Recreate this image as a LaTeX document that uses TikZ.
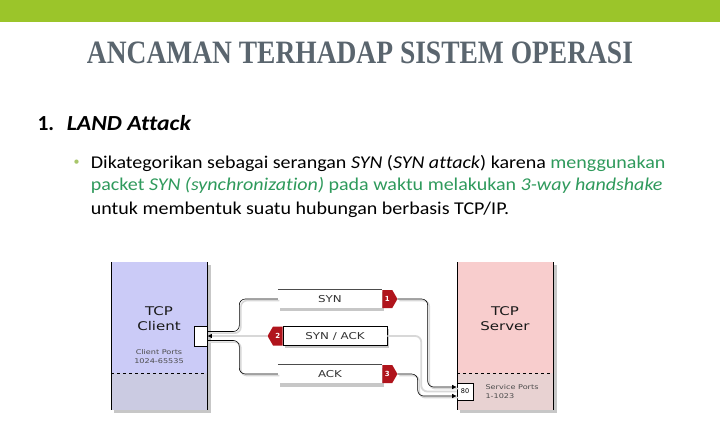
\documentclass[tikz,border=0pt]{standalone}
\usepackage{fontspec}
\setmainfont{Carlito}[Ligatures=NoCommon]
\newfontfamily\titlefont{Liberation Serif}
\newfontfamily\diagfont{DejaVu Sans}
\usetikzlibrary{shapes.symbols,arrows.meta,calc}
\definecolor{barGreen}{HTML}{9BC52A}
\definecolor{titleGray}{HTML}{5A656E}
\definecolor{txtGreen}{HTML}{2F9A5C}
\definecolor{bulletGreen}{HTML}{A8C66A}
\definecolor{clientTop}{HTML}{CBCBF7}
\definecolor{clientLow}{HTML}{CBCBE2}
\definecolor{serverTop}{HTML}{F8CDCD}
\definecolor{serverLow}{HTML}{E8D2D2}
\definecolor{tagRed}{HTML}{B0141C}
\definecolor{railGray}{HTML}{D8D8D8}
\newcommand{\wide}[1]{\scalebox{1.25}[1]{#1}}
\newcommand{\bodywide}[1]{\scalebox{1.112}[1]{#1}}
\tikzset{
  msgbar/.style={rectangle, fill=white, draw=black!60, line width=0.5pt, minimum width=104pt, minimum height=18pt, inner sep=0pt, font=\diagfont\fontsize{9.5}{10}\selectfont, text=black!80},
  tagbox/.style={signal, fill=tagRed, draw=none, minimum width=15pt, minimum height=18pt, inner sep=0pt, signal pointer angle=120, text=white, font=\diagfont\bfseries\fontsize{7}{8}\selectfont},
  portbox/.style={rectangle, fill=white, draw=black, line width=0.6pt, inner sep=0pt},
  rail/.style={draw=black, line width=0.6pt, rounded corners=6pt,
     preaction={draw=railGray, line width=1.6pt, arrows=-, transform canvas={xshift=1.6pt,yshift=-1.6pt}}},
  grayrail/.style={draw=railGray, line width=1.8pt, rounded corners=6pt},
  tip/.style={-{Latex[length=4.5pt,width=4.5pt]}},
  bodytext/.style={anchor=base west, inner sep=0pt, font=\fontsize{18}{22}\selectfont},
  bigdiag/.style={align=center, font=\diagfont\fontsize{12}{15}\selectfont, text=black!90},
  smalldiag/.style={font=\diagfont\fontsize{6.5}{9}\selectfont, text=black!70},
}
\begin{document}
\begin{tikzpicture}[x=1pt,y=-1pt]
\useasboundingbox (0,0) rectangle (720,425);
\fill[white] (0,0) rectangle (720,425);
% green top bar
\fill[barGreen] (0,0) rectangle (720,22.5);
% title
\node[anchor=base, inner sep=0pt, text=titleGray] (title) at (360,63.3)
  {\resizebox{546pt}{21.6pt}{\titlefont\bfseries ANCAMAN TERHADAP SISTEM OPERASI}};
% heading
\node[anchor=base west, inner sep=0pt, font=\fontsize{21.5}{24}\selectfont\bfseries] (h1) at (37.3,130.7) {1.};
\node[anchor=base west, inner sep=0pt, font=\fontsize{21.5}{24}\selectfont\bfseries\itshape] (h2) at (66.7,130.7) {\resizebox{124pt}{\height}{LAND Attack}};
% bullet text
\node[inner sep=0pt, text=bulletGreen, font=\fontsize{12}{12}\selectfont] (bul) at (76.5,162.5) {\textbullet};
\node[bodytext] (l1) at (90.7,168.3) {\bodywide{Dikategorikan sebagai serangan \textit{SYN} (\textit{SYN attack}) karena \textcolor{txtGreen}{menggunakan}}};
\node[bodytext, text=txtGreen] (l2) at (90.7,190.7) {\bodywide{packet \textit{SYN (synchronization)} pada waktu melakukan \textit{3-way handshake}}};
\node[bodytext] (l3) at (90.7,214) {\bodywide{untuk membentuk suatu hubungan berbasis TCP/IP.}};

% ---------- client box
\fill[black!22] (114,265) rectangle (210.5,413);
\fill[clientTop] (111,262) rectangle (207,373);
\fill[clientLow] (111,373) rectangle (207,410);
\draw[dashed, line width=0.6pt] (111,373) -- (207,373);
\draw[line width=0.7pt] (111,262) -- (111,410);
\draw[line width=0.7pt] (207,262) -- (207,410);
\node[bigdiag] (clientlbl) at (159,319) {\wide{TCP}\\\wide{Client}};
\node[smalldiag, align=center] (clientports) at (159,356.5) {\wide{Client Ports}\\\wide{1024-65535}};
\node[portbox, minimum width=13pt, minimum height=20pt] (cport) at (200.5,336) {};

% ---------- server box
\fill[black!22] (460,265) rectangle (556.5,413);
\fill[serverTop] (457,262) rectangle (553,373);
\fill[serverLow] (457,373) rectangle (553,410);
\draw[dashed, line width=0.6pt] (457,373) -- (553,373);
\draw[line width=0.7pt] (457,262) -- (457,410);
\draw[line width=0.7pt] (553,262) -- (553,410);
\node[bigdiag] (serverlbl) at (505,319) {\wide{TCP}\\\wide{Server}};
\node[smalldiag, align=left, anchor=west] (serverports) at (482,392) {\wide{Service Ports}\\\wide{1-1023}};

% ---------- message bars
\fill[black!22] (280,292) rectangle (384,310.5);
\fill[black!22] (285,329) rectangle (389,348);
\fill[black!22] (280,368) rectangle (384,386.5);
\node[msgbar, draw=none] (syn) at (330,299) {\wide{SYN}};
\draw[black!70, line width=0.6pt] (syn.north west) -- (syn.north east);
\node[msgbar, draw=black, minimum height=19pt] (synack) at (335,336) {\wide{SYN / ACK}};
\node[msgbar, draw=none] (ack) at (330,374) {\wide{ACK}};
\draw[black!70, line width=0.6pt] (ack.north west) -- (ack.north east);
\node[tagbox, signal to=east, anchor=west] (t1) at (syn.east) {1};
\node[tagbox, signal to=west, anchor=east, minimum height=19pt] (t2) at (synack.west) {2};
\node[tagbox, signal to=east, anchor=west] (t3) at (ack.east) {3};

\node[portbox, minimum width=16pt, minimum height=17pt, font=\diagfont\fontsize{6.5}{7}\selectfont] (sport) at (465,391.5) {80};

% ---------- connectors
% SYN/ACK (gray) path
\draw[grayrail] (synack.east) -- ++(34,0) |- (sport.west);
\draw[grayrail, -{Latex[color=black,length=4.5pt,width=4.5pt]}] (t2.west) -- (cport.east);
% SYN path
\draw[rail] ($(cport.east)+(0,-4.5)$) -- ++(32,0) |- (syn.west);
\draw[rail, tip] (t1.east) -- ++(30,0) |- ($(sport.west)+(0,-4.5)$);
% ACK path
\draw[rail] ($(cport.east)+(0,4.5)$) -- ++(32,0) |- (ack.west);
\draw[rail, tip] (t3.east) -- ++(20,0) |- ($(sport.west)+(0,4.5)$);
\end{tikzpicture}
\end{document}
